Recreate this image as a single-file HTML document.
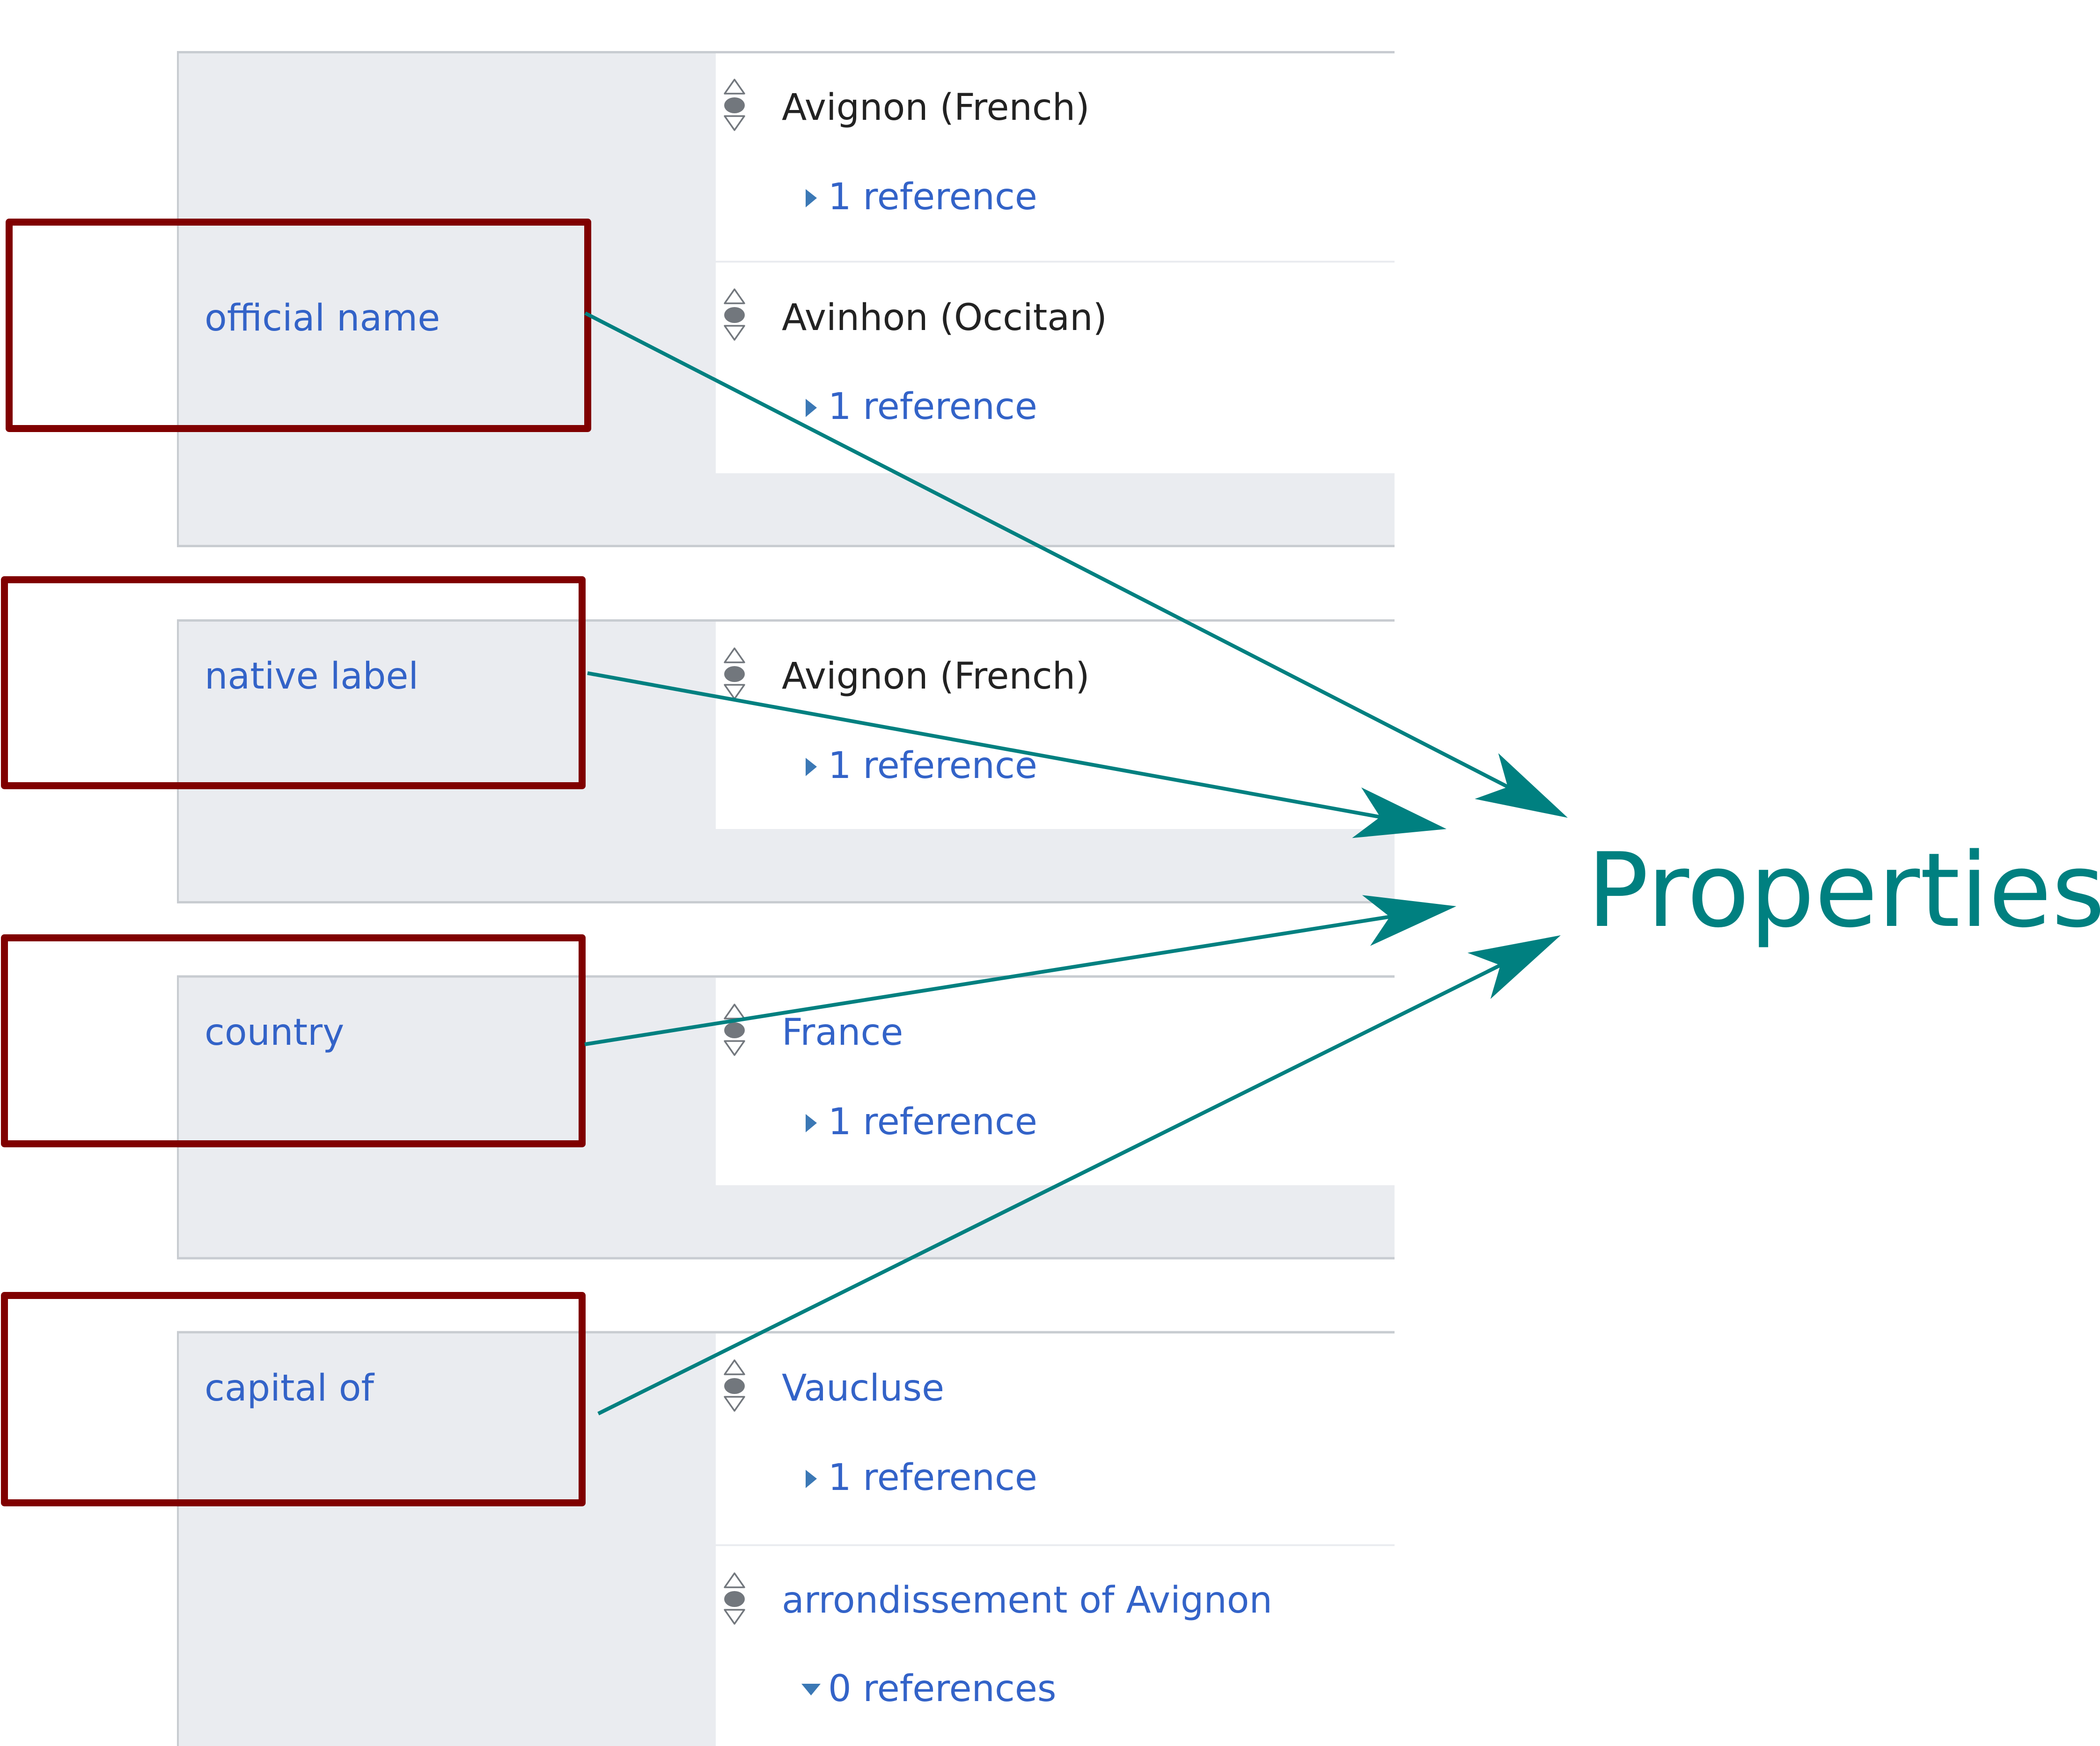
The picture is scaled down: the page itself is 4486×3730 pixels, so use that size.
<!DOCTYPE html>
<html>
<head>
<meta charset="utf-8">
<style>
html,body{margin:0;padding:0;background:#fff;}
body{width:4486px;height:3730px;overflow:hidden;position:relative;}
svg{position:absolute;left:0;top:0;}
text{font-family:"DejaVu Sans","Liberation Sans",sans-serif;}
</style>
</head>
<body>
<svg width="4486" height="3730" viewBox="0 0 4486 3730" xmlns="http://www.w3.org/2000/svg">
  <defs>
    <g id="rank">
      <path d="M-21,30 L0,0 L21,30 Z" fill="#fff" stroke="#72777d" stroke-width="3.5" stroke-linejoin="round"/>
      <ellipse cx="0" cy="55" rx="22" ry="17" fill="#72777d"/>
      <path d="M-21,78 L0,108 L21,78 Z" fill="#fff" stroke="#72777d" stroke-width="3.5" stroke-linejoin="round"/>
    </g>
    <path id="tri" d="M0,0 L24,19 L0,39 Z" fill="#3b78b5"/>
  </defs>

  <!-- Group 1 -->
  <rect x="378" y="110" width="2601" height="1059" fill="#eaecf0"/>
  <rect x="1529" y="114" width="1450" height="897" fill="#fff"/>
  <line x1="1529" y1="559" x2="2979" y2="559" stroke="#eaecf0" stroke-width="4"/>
  <line x1="378" y1="111.5" x2="2979" y2="111.5" stroke="#c8ccd1" stroke-width="5"/>
  <line x1="378" y1="1166.5" x2="2979" y2="1166.5" stroke="#c8ccd1" stroke-width="5"/>
  <line x1="380" y1="110" x2="380" y2="1169" stroke="#c8ccd1" stroke-width="4"/>

  <!-- Group 2 -->
  <rect x="378" y="1324" width="2601" height="606" fill="#eaecf0"/>
  <rect x="1529" y="1328" width="1450" height="443" fill="#fff"/>
  <line x1="378" y1="1325.5" x2="2979" y2="1325.5" stroke="#c8ccd1" stroke-width="5"/>
  <line x1="378" y1="1927.5" x2="2979" y2="1927.5" stroke="#c8ccd1" stroke-width="5"/>
  <line x1="380" y1="1324" x2="380" y2="1930" stroke="#c8ccd1" stroke-width="4"/>

  <!-- Group 3 -->
  <rect x="378" y="2084" width="2601" height="606" fill="#eaecf0"/>
  <rect x="1529" y="2089" width="1450" height="443" fill="#fff"/>
  <line x1="378" y1="2086" x2="2979" y2="2086" stroke="#c8ccd1" stroke-width="5"/>
  <line x1="378" y1="2688" x2="2979" y2="2688" stroke="#c8ccd1" stroke-width="5"/>
  <line x1="380" y1="2084" x2="380" y2="2690" stroke="#c8ccd1" stroke-width="4"/>

  <!-- Group 4 -->
  <rect x="378" y="2844" width="2601" height="886" fill="#eaecf0"/>
  <rect x="1529" y="2849" width="1450" height="881" fill="#fff"/>
  <line x1="1529" y1="3301" x2="2979" y2="3301" stroke="#eaecf0" stroke-width="4"/>
  <line x1="378" y1="2846" x2="2979" y2="2846" stroke="#c8ccd1" stroke-width="5"/>
  <line x1="380" y1="2844" x2="380" y2="3730" stroke="#c8ccd1" stroke-width="4"/>

  <!-- Property labels -->
  <g font-size="78" fill="#3363c8">
    <text x="437" y="706">official name</text>
    <text x="437" y="1471">native label</text>
    <text x="437" y="2232">country</text>
    <text x="437" y="2992">capital of</text>
  </g>

  <!-- Rank icons -->
  <use href="#rank" x="1569" y="170"/>
  <use href="#rank" x="1569" y="618"/>
  <use href="#rank" x="1569" y="1385"/>
  <use href="#rank" x="1569" y="2146"/>
  <use href="#rank" x="1569" y="2906"/>
  <use href="#rank" x="1569" y="3361"/>

  <!-- Values -->
  <g font-size="78">
    <text x="1670" y="256" fill="#222">Avignon (French)</text>
    <text x="1670" y="705" fill="#222">Avinhon (Occitan)</text>
    <text x="1670" y="1471" fill="#222">Avignon (French)</text>
    <text x="1670" y="2232" fill="#3363c8">France</text>
    <text x="1670" y="2992" fill="#3363c8">Vaucluse</text>
    <text x="1670" y="3445" fill="#3363c8">arrondissement of Avignon</text>
  </g>

  <!-- References -->
  <use href="#tri" x="1721" y="404"/>
  <use href="#tri" x="1721" y="852"/>
  <use href="#tri" x="1721" y="1619"/>
  <use href="#tri" x="1721" y="2380"/>
  <use href="#tri" x="1721" y="3140"/>
  <path d="M1712,3597 L1753,3597 L1732.5,3622 Z" fill="#3b78b5"/>
  <g font-size="78" fill="#3363c8">
    <text x="1769" y="447">1 reference</text>
    <text x="1769" y="895">1 reference</text>
    <text x="1769" y="1662">1 reference</text>
    <text x="1769" y="2423">1 reference</text>
    <text x="1769" y="3183">1 reference</text>
    <text x="1769" y="3634">0 references</text>
  </g>

  <!-- Red boxes -->
  <g fill="none" stroke="#800000" stroke-width="15" stroke-linejoin="round">
    <rect x="19.5" y="474.5" width="1236" height="441"/>
    <rect x="9.5" y="1238.5" width="1234" height="440"/>
    <rect x="9.5" y="2003.5" width="1234" height="440"/>
    <rect x="9.5" y="2767.5" width="1234" height="443"/>
  </g>

  <!-- Arrows -->
  <g stroke="#008080" stroke-width="8" fill="none">
    <line x1="1250" y1="669" x2="3225" y2="1683"/>
    <line x1="1255" y1="1438" x2="2952" y2="1746"/>
    <line x1="1249" y1="2231" x2="2972" y2="1958"/>
    <line x1="1278" y1="3020" x2="3209" y2="2060"/>
  </g>
  <g fill="#008080">
    <polygon points="3349,1747 3150.4,1706.8 3220.9,1681.2 3200.6,1609"/>
    <polygon points="3090,1771 2888.3,1790.3 2948.3,1745.3 2907.9,1682.1"/>
    <polygon points="3111,1936 2927,2020.8 2968.8,1958.5 2909.8,1912.2"/>
    <polygon points="3334,1998 3183.9,2134.1 3205,2062.1 3134.9,2035.5"/>
  </g>

  <!-- Properties label -->
  <text x="3390" y="1978" font-size="219" fill="#008080">Properties</text>
</svg>
</body>
</html>
